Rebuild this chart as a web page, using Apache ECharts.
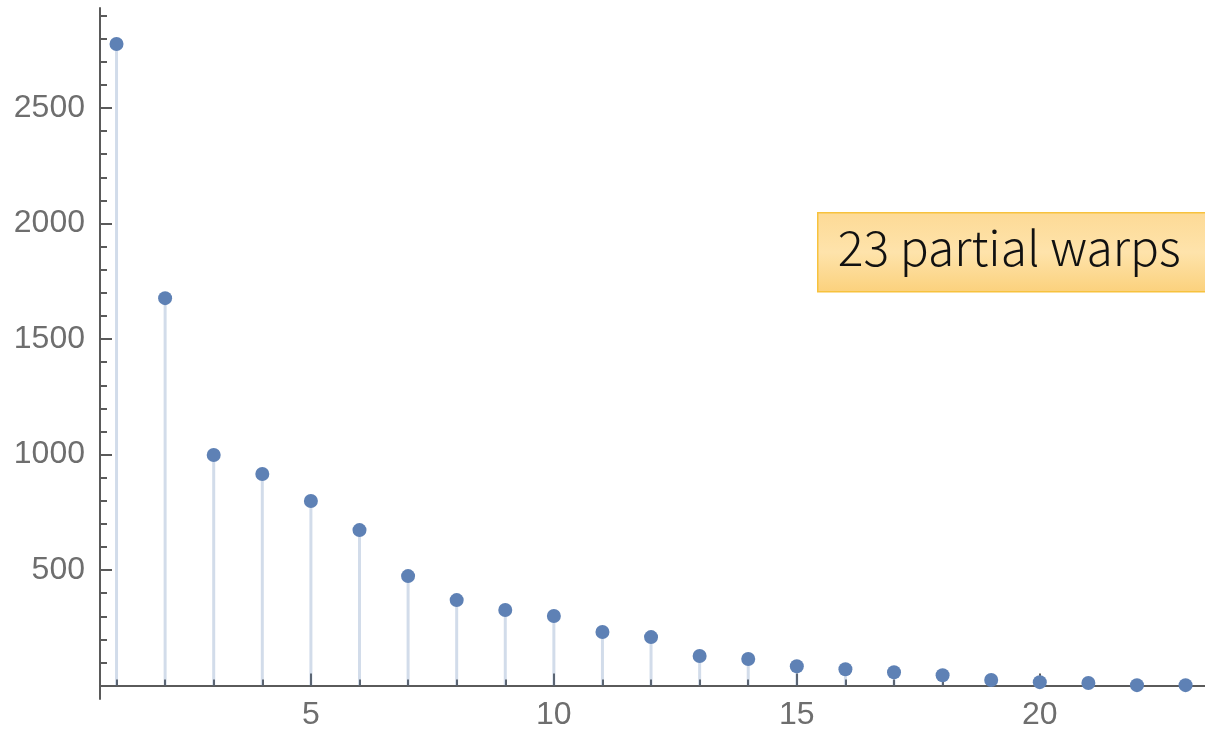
<!DOCTYPE html>
<html>
<head>
<meta charset="utf-8">
<script src="https://cdn.jsdelivr.net/npm/echarts@6/dist/echarts.min.js"></script>
<style>
html,body{margin:0;padding:0;background:#fff;}
#chart{width:1205px;height:730px;}
</style>
</head>
<body>
<div id="chart"></div>
<script>
// partial warp index and its bending energy value
var warps = [1,2,3,4,5,6,7,8,9,10,11,12,13,14,15,16,17,18,19,20,21,22,23];
var energy = [2777,1677,998,916,799,673,474,370,327,301,232,210,128,115,84,71,58,45,24,15,11,2,2];

var xMajor = [5,10,15,20];
var xMinor = [1,2,3,4,6,7,8,9,11,12,13,14,16,17,18,19,21,22,23];
var yMajor = [500,1000,1500,2000,2500];
var yMinor = [100,200,300,400,600,700,800,900,1100,1200,1300,1400,1600,1700,1800,1900,2100,2200,2300,2400,2600,2700,2800,2900];

var pts = warps.map(function(w,i){ return [w, energy[i]]; });

var axisCol = '#5a5a5a';
var labelCol = '#6e6e6e';
var xMin = 0.66, xMax = 23.4, yMin = -58, yMax = 2933;

function plain(v){ return String(v); }

var myChart = echarts.init(document.getElementById('chart'));

myChart.setOption({
	animation: false,
	grid: [
		{left:100, right:0, top:8, bottom:31, outerBoundsMode:'none', containLabel:false},
		{left:100, right:0, top:8, bottom:31, outerBoundsMode:'none', containLabel:false}
	],
	xAxis: [{
		type: 'value', gridIndex: 0, min: xMin, max: xMax,
		splitLine: {show:false},
		axisLine: {onZero:true, lineStyle:{color:axisCol, width:2}},
		axisTick: {inside:true, length:12, customValues:xMajor, lineStyle:{color:axisCol, width:2}},
		axisLabel: {customValues:xMajor, formatter:plain, margin:0, color:labelCol, fontSize:32, fontFamily:'Liberation Sans'}
	},{
		type: 'value', gridIndex: 1, min: xMin, max: xMax,
		splitLine: {show:false},
		axisLine: {show:false, onZero:true},
		axisTick: {inside:true, length:6, customValues:xMinor, lineStyle:{color:axisCol, width:2}},
		axisLabel: {show:false}
	}],
	yAxis: [{
		type: 'value', gridIndex: 0, min: yMin, max: yMax,
		splitLine: {show:false},
		axisLine: {show:true, onZero:false, lineStyle:{color:axisCol, width:2}},
		axisTick: {show:true, inside:true, length:12, customValues:yMajor, lineStyle:{color:axisCol, width:2}},
		axisLabel: {customValues:yMajor, formatter:plain, margin:15, color:labelCol, fontSize:32, fontFamily:'Liberation Sans'}
	},{
		type: 'value', gridIndex: 1, min: yMin, max: yMax,
		splitLine: {show:false},
		axisLine: {show:false, onZero:false},
		axisTick: {show:true, inside:true, length:7, customValues:yMinor, lineStyle:{color:axisCol, width:2}},
		axisLabel: {show:false}
	}],
	series: [{
		type: 'bar', xAxisIndex: 0, yAxisIndex: 0,
		data: pts, barWidth: 3,
		itemStyle: {color:'rgba(94,129,181,0.28)'},
		z: 1
	},{
		type: 'scatter', xAxisIndex: 0, yAxisIndex: 0,
		data: pts, symbolSize: 14,
		itemStyle: {color:'#5e81b5', opacity:1},
		z: 3
	}],
	graphic: [{
		type: 'group', left: 817, top: 212,
		children: [{
			type: 'rect',
			shape: {x:0, y:0, width:390, height:79},
			style: {
				fill: new echarts.graphic.LinearGradient(0,0,0,1,[
					{offset:0, color:'#fdda96'},
					{offset:0.5, color:'#fee3ab'},
					{offset:1, color:'#fbd17c'}
				]),
				stroke: '#f7c23e', lineWidth: 1.5
			}
		},{
			type: 'text',
			x: 20, y: 35,
			style: {
				text: '23 partial warps',
				font: '300 48px "Noto Sans CJK JP"',
				fill: '#111',
				verticalAlign: 'middle'
			}
		}]
	}]
});
</script>
</body>
</html>
